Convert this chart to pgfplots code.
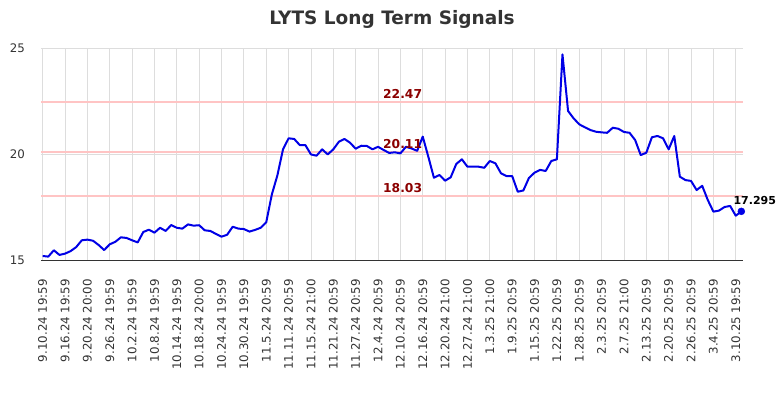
\documentclass[border=0pt]{standalone}
\usepackage{fontspec}
\setmainfont{DejaVu Sans}
\usepackage{pgfplots}
\pgfplotsset{compat=1.18}

\definecolor{linecol}{RGB}{0,0,230}
\definecolor{levelcol}{RGB}{255,196,196}
\definecolor{levellab}{RGB}{139,0,0}
\definecolor{gridcol}{RGB}{221,221,221}
\definecolor{txtcol}{RGB}{51,51,51}

\begin{document}
\begin{tikzpicture}[x=1pt,y=1pt]
\useasboundingbox (0,0) rectangle (784,400);
\node[font=\fontsize{18.5}{20}\selectfont\bfseries, text=txtcol] at (392,381) {LYTS Long Term Signals};
\begin{axis}[
    at={(41pt,140pt)}, anchor=south west,
    scale only axis, width=702pt, height=212pt,
    xmin=-0.3, xmax=125.3, ymin=15, ymax=25,
    clip=false,
    axis x line*=bottom, axis y line*=left,
    x axis line style={-, draw=txtcol, line width=1pt},
    y axis line style={draw=none},
    major tick length=0pt,
    grid=major,
    major grid style={draw=gridcol, line width=0.8pt},
    ytick={15,20,25},
    xtick={0,4,...,124},
    xticklabels={9.10.24 19:59, 9.16.24 19:59, 9.20.24 20:00, 9.26.24 19:59, 10.2.24 19:59, 10.8.24 19:59, 10.14.24 19:59, 10.18.24 20:00, 10.24.24 19:59, 10.30.24 19:59, 11.5.24 20:59, 11.11.24 20:59, 11.15.24 21:00, 11.21.24 20:59, 11.27.24 20:59, 12.4.24 20:59, 12.10.24 20:59, 12.16.24 20:59, 12.20.24 21:00, 12.27.24 21:00, 1.3.25 21:00, 1.9.25 20:59, 1.15.25 20:59, 1.22.25 20:59, 1.28.25 20:59, 2.3.25 20:59, 2.7.25 21:00, 2.13.25 20:59, 2.20.25 20:59, 2.26.25 20:59, 3.4.25 20:59, 3.10.25 19:59},
    xticklabel style={rotate=90, anchor=east, inner sep=0pt, font=\fontsize{11.8}{12}\selectfont, text=txtcol},
    yticklabel style={anchor=east, inner sep=0pt, font=\fontsize{11.8}{12}\selectfont, text=txtcol},
    xticklabel shift=19pt,
    yticklabel shift=16pt,
    /pgf/number format/assume math mode=true,
]
% level lines
\addplot[levelcol, line width=2pt] coordinates {(-0.3,22.47) (125.3,22.47)};
\addplot[levelcol, line width=2pt] coordinates {(-0.3,20.11) (125.3,20.11)};
\addplot[levelcol, line width=2pt] coordinates {(-0.3,18.03) (125.3,18.03)};
% price
\addplot[linecol, line width=2pt, line join=round] coordinates {
(0,15.19) (1,15.16) (2,15.46) (3,15.24) (4,15.30) (5,15.42) (6,15.61) (7,15.93)
(8,15.96) (9,15.91) (10,15.71) (11,15.47) (12,15.74) (13,15.86) (14,16.07) (15,16.04)
(16,15.93) (17,15.83) (18,16.32) (19,16.43) (20,16.29) (21,16.52) (22,16.37) (23,16.65)
(24,16.52) (25,16.48) (26,16.68) (27,16.62) (28,16.64) (29,16.40) (30,16.37) (31,16.23)
(32,16.10) (33,16.19) (34,16.57) (35,16.48) (36,16.46) (37,16.34) (38,16.42) (39,16.52)
(40,16.78) (41,18.09) (42,19.00) (43,20.22) (44,20.74) (45,20.71) (46,20.42) (47,20.42)
(48,19.98) (49,19.92) (50,20.22) (51,19.98) (52,20.22) (53,20.58) (54,20.71) (55,20.53)
(56,20.25) (57,20.39) (58,20.38) (59,20.22) (60,20.34) (61,20.19) (62,20.05) (63,20.08)
(64,20.03) (65,20.34) (66,20.26) (67,20.15) (68,20.82) (69,19.87) (70,18.88) (71,19.01)
(72,18.74) (73,18.90) (74,19.53) (75,19.75) (76,19.40) (77,19.40) (78,19.40) (79,19.35)
(80,19.67) (81,19.56) (82,19.09) (83,18.96) (84,18.96) (85,18.22) (86,18.28) (87,18.87)
(88,19.12) (89,19.25) (90,19.20) (91,19.67) (92,19.75) (93,24.70) (94,22.03) (95,21.68)
(96,21.40) (97,21.26) (98,21.13) (99,21.05) (100,21.02) (101,21.00) (102,21.24) (103,21.19)
(104,21.04) (105,21.00) (106,20.66) (107,19.95) (108,20.06) (109,20.79) (110,20.85) (111,20.74)
(112,20.22) (113,20.85) (114,18.93) (115,18.77) (116,18.73) (117,18.30) (118,18.50) (119,17.83)
(120,17.28) (121,17.33) (122,17.50) (123,17.55) (124,17.09) (125,17.295)
};
\addplot[only marks, mark=*, mark size=3.5pt, linecol] coordinates {(125,17.295)};
% labels
\node[anchor=base, inner sep=0pt, text=levellab, font=\fontsize{12.3}{13}\selectfont\bfseries, yshift=3.6pt] at (axis cs:64.4,22.47) {22.47};
\node[anchor=base, inner sep=0pt, text=levellab, font=\fontsize{12.3}{13}\selectfont\bfseries, yshift=3.6pt] at (axis cs:64.4,20.11) {20.11};
\node[anchor=base, inner sep=0pt, text=levellab, font=\fontsize{12.3}{13}\selectfont\bfseries, yshift=3.6pt] at (axis cs:64.4,18.03) {18.03};
\node[anchor=base west, inner sep=0pt, font=\fontsize{11}{12}\selectfont\bfseries, xshift=-8pt, yshift=7pt] at (axis cs:125,17.295) {17.295};
\end{axis}
\end{tikzpicture}
\end{document}
